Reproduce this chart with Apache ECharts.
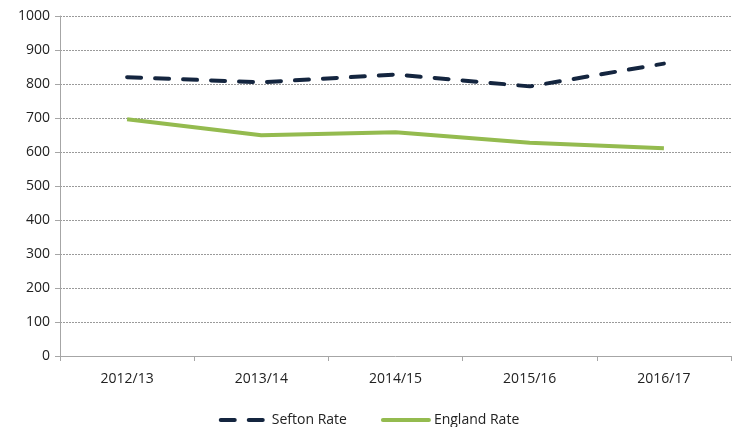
<!DOCTYPE html>
<html>
<head>
<meta charset="utf-8">
<script src="https://cdn.jsdelivr.net/npm/echarts@6/dist/echarts.min.js"></script>
<style>
  html, body { margin: 0; padding: 0; background: #fff; }
  #chart { width: 738px; height: 427px; }
</style>
</head>
<body>
<div id="chart"></div>
<script>
var years = ['2012/13', '2013/14', '2014/15', '2015/16', '2016/17'];
var seftonRate = [820, 805, 828, 793, 860];
var englandRate = [696, 649, 658, 627, 611];

var myChart = echarts.init(document.getElementById('chart'));
var labelFont = { color: '#222', fontSize: 14, fontFamily: 'Open Sans' };

var option = {
    animation: false,
    backgroundColor: '#fff',
    grid: { left: 60, right: 7, top: 16, bottom: 71 },
    legend: {
        top: 408,
        left: 'center',
        itemWidth: 46,
        itemHeight: 12,
        itemGap: 34,
        itemStyle: { opacity: 0 },
        lineStyle: { width: 4, cap: 'round' },
        textStyle: { color: '#222', fontSize: 14, fontFamily: 'Open Sans' },
        data: ['Sefton Rate', 'England Rate']
    },
    xAxis: {
        type: 'category',
        data: years,
        boundaryGap: true,
        axisLine: { lineStyle: { color: '#a6a6a6', width: 1 } },
        axisTick: { show: true, length: 5, lineStyle: { color: '#a6a6a6' } },
        axisLabel: Object.assign({ margin: 16 }, labelFont)
    },
    yAxis: {
        type: 'value',
        min: 0,
        max: 1000,
        interval: 100,
        axisLine: { show: true, lineStyle: { color: '#a6a6a6', width: 1 } },
        axisTick: { show: true, length: 5, lineStyle: { color: '#a6a6a6' } },
        axisLabel: Object.assign({ margin: 10, formatter: function (v) { return String(v); } }, labelFont),
        splitLine: { lineStyle: { color: '#9a9a9a', type: [2, 1], width: 1 } }
    },
    series: [
        {
            name: 'Sefton Rate',
            type: 'line',
            data: seftonRate,
            symbol: 'none',
            itemStyle: { color: '#14253f' },
            lineStyle: { color: '#14253f', width: 4, type: [14, 14], cap: 'round' }
        },
        {
            name: 'England Rate',
            type: 'line',
            data: englandRate,
            symbol: 'none',
            itemStyle: { color: '#94bb4f' },
            lineStyle: { color: '#94bb4f', width: 4 }
        }
    ]
};

option && myChart.setOption(option);
</script>
</body>
</html>
